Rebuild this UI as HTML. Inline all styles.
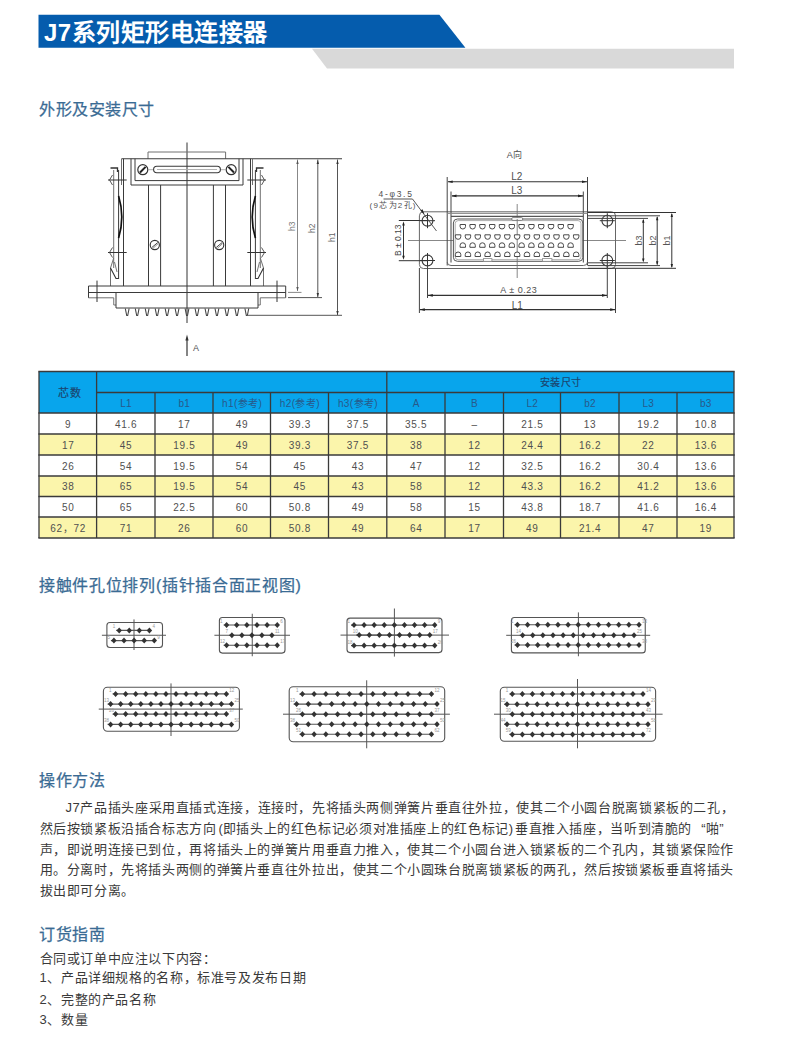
<!DOCTYPE html>
<html lang="zh-CN"><head><meta charset="utf-8">
<style>
html,body{margin:0;padding:0;background:#fff;}
body{position:relative;width:800px;height:1047px;overflow:hidden;font-family:"Liberation Sans",sans-serif;color:#333;}
svg{position:absolute;left:0;top:0;}
.h{position:absolute;left:39px;font-size:16px;letter-spacing:0.5px;color:#3a6b94;-webkit-text-stroke:0.25px #3a6b94;white-space:nowrap;line-height:1;}
.title{position:absolute;left:44px;top:20.5px;font-size:24px;font-weight:bold;color:#fff;white-space:nowrap;line-height:1;letter-spacing:0.5px;}
.c{position:absolute;text-align:center;white-space:nowrap;line-height:1;font-size:10px;color:#505050;letter-spacing:0.7px;text-indent:0.7px;}
.ch{color:#27598a;letter-spacing:0.4px;}
.cb{color:#1b4670;-webkit-text-stroke:0.2px #1b4670;}
.p{position:absolute;left:39px;font-size:13px;letter-spacing:0.62px;color:#3a3a3a;white-space:nowrap;line-height:1;}
.pa{display:inline-block;width:6.2px;text-align:right;letter-spacing:0;}
.pr{text-align:left;}
.q1{display:inline-block;width:13.6px;text-align:right;letter-spacing:0;}
.q2{display:inline-block;width:13.6px;text-align:left;letter-spacing:0;}
.d{position:absolute;white-space:nowrap;line-height:1;font-size:8px;color:#505050;}
</style></head><body>
<svg width="800" height="80" viewBox="0 0 800 80">
<polygon points="38.5,14.75 439.4,14.75 465.4,47.75 38.5,47.75" fill="#055cad"/>
<polygon points="312,48.75 734,48.75 734,68.5 327,68.5" fill="#d9d9d9"/>
</svg>
<div class="title">J7系列矩形电连接器</div>
<div class="h" style="top:101.5px">外形及安装尺寸</div>
<div class="h" style="top:577.5px;letter-spacing:0.7px">接触件孔位排列(插针插合面正视图)</div>
<div class="h" style="top:772.5px">操作方法</div>
<div class="h" style="top:926.5px">订货指南</div>
<svg width="800" height="1047" viewBox="0 0 800 1047">
<rect x="39" y="371.5" width="695" height="41.5" fill="#08a5ec"/>
<rect x="39" y="434" width="695" height="21" fill="#fbf5ab"/>
<rect x="39" y="476" width="695" height="20.5" fill="#fbf5ab"/>
<rect x="39" y="517" width="695" height="21" fill="#fbf5ab"/>
<g stroke="#3a3a3a" stroke-width="1.3" fill="none">
<line x1="38.35" y1="371.5" x2="734.65" y2="371.5"/>
<line x1="96.6" y1="392.5" x2="734" y2="392.5"/>
<line x1="38.35" y1="413" x2="734.65" y2="413"/>
<line x1="38.35" y1="434" x2="734.65" y2="434"/>
<line x1="38.35" y1="455" x2="734.65" y2="455"/>
<line x1="38.35" y1="476" x2="734.65" y2="476"/>
<line x1="38.35" y1="496.5" x2="734.65" y2="496.5"/>
<line x1="38.35" y1="517" x2="734.65" y2="517"/>
<line x1="38.35" y1="538" x2="734.65" y2="538"/>
<line x1="39" y1="371.5" x2="39" y2="538"/>
<line x1="96.6" y1="371.5" x2="96.6" y2="538"/>
<line x1="155" y1="392.5" x2="155" y2="538"/>
<line x1="213" y1="392.5" x2="213" y2="538"/>
<line x1="270.5" y1="392.5" x2="270.5" y2="538"/>
<line x1="328.5" y1="392.5" x2="328.5" y2="538"/>
<line x1="386.8" y1="371.5" x2="386.8" y2="538"/>
<line x1="445" y1="392.5" x2="445" y2="538"/>
<line x1="503.5" y1="392.5" x2="503.5" y2="538"/>
<line x1="560.5" y1="392.5" x2="560.5" y2="538"/>
<line x1="619" y1="392.5" x2="619" y2="538"/>
<line x1="677" y1="392.5" x2="677" y2="538"/>
<line x1="734" y1="371.5" x2="734" y2="538"/>
</g>
</svg>
<div class="c ch cb" style="left:40.5px;width:57.599999999999994px;top:387.75px"><span style="font-size:11px">芯数</span></div><div class="c ch cb" style="left:386.8px;width:347.2px;top:378.00px">安装尺寸</div><div class="c ch" style="left:96.6px;width:58.400000000000006px;top:398.75px">L1</div><div class="c ch" style="left:155px;width:58px;top:398.75px">b1</div><div class="c ch" style="left:213px;width:57.5px;top:398.75px">h1(参考)</div><div class="c ch" style="left:270.5px;width:58.0px;top:398.75px">h2(参考)</div><div class="c ch" style="left:328.5px;width:58.30000000000001px;top:398.75px">h3(参考)</div><div class="c ch" style="left:386.8px;width:58.19999999999999px;top:398.75px">A</div><div class="c ch" style="left:445px;width:58.5px;top:398.75px">B</div><div class="c ch" style="left:503.5px;width:57.0px;top:398.75px">L2</div><div class="c ch" style="left:560.5px;width:58.5px;top:398.75px">b2</div><div class="c ch" style="left:619px;width:58px;top:398.75px">L3</div><div class="c ch" style="left:677px;width:57px;top:398.75px">b3</div><div class="c" style="left:39px;width:57.599999999999994px;top:419.50px">9</div><div class="c" style="left:96.6px;width:58.400000000000006px;top:419.50px">41.6</div><div class="c" style="left:155px;width:58px;top:419.50px">17</div><div class="c" style="left:213px;width:57.5px;top:419.50px">49</div><div class="c" style="left:270.5px;width:58.0px;top:419.50px">39.3</div><div class="c" style="left:328.5px;width:58.30000000000001px;top:419.50px">37.5</div><div class="c" style="left:386.8px;width:58.19999999999999px;top:419.50px">35.5</div><div class="c" style="left:445px;width:58.5px;top:419.50px">–</div><div class="c" style="left:503.5px;width:57.0px;top:419.50px">21.5</div><div class="c" style="left:560.5px;width:58.5px;top:419.50px">13</div><div class="c" style="left:619px;width:58px;top:419.50px">19.2</div><div class="c" style="left:677px;width:57px;top:419.50px">10.8</div><div class="c" style="left:39px;width:57.599999999999994px;top:440.50px">17</div><div class="c" style="left:96.6px;width:58.400000000000006px;top:440.50px">45</div><div class="c" style="left:155px;width:58px;top:440.50px">19.5</div><div class="c" style="left:213px;width:57.5px;top:440.50px">49</div><div class="c" style="left:270.5px;width:58.0px;top:440.50px">39.3</div><div class="c" style="left:328.5px;width:58.30000000000001px;top:440.50px">37.5</div><div class="c" style="left:386.8px;width:58.19999999999999px;top:440.50px">38</div><div class="c" style="left:445px;width:58.5px;top:440.50px">12</div><div class="c" style="left:503.5px;width:57.0px;top:440.50px">24.4</div><div class="c" style="left:560.5px;width:58.5px;top:440.50px">16.2</div><div class="c" style="left:619px;width:58px;top:440.50px">22</div><div class="c" style="left:677px;width:57px;top:440.50px">13.6</div><div class="c" style="left:39px;width:57.599999999999994px;top:461.50px">26</div><div class="c" style="left:96.6px;width:58.400000000000006px;top:461.50px">54</div><div class="c" style="left:155px;width:58px;top:461.50px">19.5</div><div class="c" style="left:213px;width:57.5px;top:461.50px">54</div><div class="c" style="left:270.5px;width:58.0px;top:461.50px">45</div><div class="c" style="left:328.5px;width:58.30000000000001px;top:461.50px">43</div><div class="c" style="left:386.8px;width:58.19999999999999px;top:461.50px">47</div><div class="c" style="left:445px;width:58.5px;top:461.50px">12</div><div class="c" style="left:503.5px;width:57.0px;top:461.50px">32.5</div><div class="c" style="left:560.5px;width:58.5px;top:461.50px">16.2</div><div class="c" style="left:619px;width:58px;top:461.50px">30.4</div><div class="c" style="left:677px;width:57px;top:461.50px">13.6</div><div class="c" style="left:39px;width:57.599999999999994px;top:482.25px">38</div><div class="c" style="left:96.6px;width:58.400000000000006px;top:482.25px">65</div><div class="c" style="left:155px;width:58px;top:482.25px">19.5</div><div class="c" style="left:213px;width:57.5px;top:482.25px">54</div><div class="c" style="left:270.5px;width:58.0px;top:482.25px">45</div><div class="c" style="left:328.5px;width:58.30000000000001px;top:482.25px">43</div><div class="c" style="left:386.8px;width:58.19999999999999px;top:482.25px">58</div><div class="c" style="left:445px;width:58.5px;top:482.25px">12</div><div class="c" style="left:503.5px;width:57.0px;top:482.25px">43.3</div><div class="c" style="left:560.5px;width:58.5px;top:482.25px">16.2</div><div class="c" style="left:619px;width:58px;top:482.25px">41.2</div><div class="c" style="left:677px;width:57px;top:482.25px">13.6</div><div class="c" style="left:39px;width:57.599999999999994px;top:502.75px">50</div><div class="c" style="left:96.6px;width:58.400000000000006px;top:502.75px">65</div><div class="c" style="left:155px;width:58px;top:502.75px">22.5</div><div class="c" style="left:213px;width:57.5px;top:502.75px">60</div><div class="c" style="left:270.5px;width:58.0px;top:502.75px">50.8</div><div class="c" style="left:328.5px;width:58.30000000000001px;top:502.75px">49</div><div class="c" style="left:386.8px;width:58.19999999999999px;top:502.75px">58</div><div class="c" style="left:445px;width:58.5px;top:502.75px">15</div><div class="c" style="left:503.5px;width:57.0px;top:502.75px">43.8</div><div class="c" style="left:560.5px;width:58.5px;top:502.75px">18.7</div><div class="c" style="left:619px;width:58px;top:502.75px">41.6</div><div class="c" style="left:677px;width:57px;top:502.75px">16.4</div><div class="c" style="left:39px;width:57.599999999999994px;top:523.50px">62，72</div><div class="c" style="left:96.6px;width:58.400000000000006px;top:523.50px">71</div><div class="c" style="left:155px;width:58px;top:523.50px">26</div><div class="c" style="left:213px;width:57.5px;top:523.50px">60</div><div class="c" style="left:270.5px;width:58.0px;top:523.50px">50.8</div><div class="c" style="left:328.5px;width:58.30000000000001px;top:523.50px">49</div><div class="c" style="left:386.8px;width:58.19999999999999px;top:523.50px">64</div><div class="c" style="left:445px;width:58.5px;top:523.50px">17</div><div class="c" style="left:503.5px;width:57.0px;top:523.50px">49</div><div class="c" style="left:560.5px;width:58.5px;top:523.50px">21.4</div><div class="c" style="left:619px;width:58px;top:523.50px">47</div><div class="c" style="left:677px;width:57px;top:523.50px">19</div><svg width="800" height="1047" viewBox="0 0 800 1047"><line x1="187" y1="142.5" x2="187" y2="323" stroke="#333" stroke-width="1"/>
<line x1="187" y1="338" x2="187" y2="356" stroke="#333" stroke-width="1.2"/>
<polygon points="187,334.5 185.4,340.5 188.6,340.5" fill="#333"/>
<path d="M148,158.75 V152 H225.6 V158.75" fill="none" stroke="#707070" stroke-width="1"/>
<line x1="121.5" y1="158.75" x2="342" y2="158.75" stroke="#3a3a3a" stroke-width="1"/>
<line x1="121.5" y1="158.75" x2="121.5" y2="185" stroke="#707070" stroke-width="1"/>
<line x1="123.5" y1="158.75" x2="123.5" y2="286" stroke="#3a3a3a" stroke-width="1"/>
<path d="M131,158.75 V185 H187" fill="none" stroke="#3a3a3a" stroke-width="1"/>
<path d="M135,158.75 V180.6 H187" fill="none" stroke="#3a3a3a" stroke-width="1"/>
<line x1="148.5" y1="185" x2="148.5" y2="286" stroke="#3a3a3a" stroke-width="1"/>
<line x1="160.6" y1="185" x2="160.6" y2="286" stroke="#3a3a3a" stroke-width="1"/>
<circle cx="142.8" cy="169.7" r="5" fill="#fff" stroke="#333" stroke-width="1.2"/>
<line x1="140.0" y1="172.5" x2="145.60000000000002" y2="166.9" stroke="#222" stroke-width="2"/>
<line x1="148" y1="169.7" x2="153.5" y2="169.7" stroke="#999" stroke-width="0.8"/>
<circle cx="154.8" cy="245" r="4.6" fill="#fff" stroke="#333" stroke-width="1.1"/>
<line x1="151.8" y1="247.5" x2="157.8" y2="242.5" stroke="#444" stroke-width="1"/>
<line x1="152.8" y1="248.5" x2="158.3" y2="243.5" stroke="#777" stroke-width="0.8"/>
<line x1="113.7" y1="170" x2="113.7" y2="268" stroke="#707070" stroke-width="1"/>
<line x1="118.6" y1="170" x2="118.6" y2="279" stroke="#3a3a3a" stroke-width="1"/>
<path d="M110.5,168 H117.5 V172" fill="none" stroke="#333" stroke-width="1.3"/>
<line x1="108" y1="180" x2="126.7" y2="180" stroke="#333" stroke-width="1"/>
<line x1="108" y1="252.5" x2="126.7" y2="252.5" stroke="#333" stroke-width="1"/>
<path d="M112.5,175 L109.5,180 L112.5,185" fill="none" stroke="#444" stroke-width="0.9"/>
<path d="M112.5,247.5 L109.5,252.5 L112.5,257.5" fill="none" stroke="#444" stroke-width="0.9"/>
<path d="M118.6,196 Q125,217 118.6,238" fill="none" stroke="#111" stroke-width="1.7"/>
<path d="M113.7,258 L110.5,268 L110.5,286" fill="none" stroke="#707070" stroke-width="1"/>
<path d="M110.5,268 L116,278.5 H118.6" fill="none" stroke="#333" stroke-width="1.1"/>
<path d="M114.5,262 L117,272" fill="none" stroke="#666" stroke-width="0.9"/>
<path d="M88.5,297.8 H113.75 V305 H116" fill="none" stroke="#707070" stroke-width="1"/>
<line x1="116" y1="292.5" x2="116" y2="308" stroke="#3a3a3a" stroke-width="1"/>
<line x1="97" y1="280.6" x2="97" y2="302" stroke="#333" stroke-width="1"/>
<line x1="252.5" y1="158.75" x2="252.5" y2="185" stroke="#707070" stroke-width="1"/>
<line x1="250.5" y1="158.75" x2="250.5" y2="286" stroke="#3a3a3a" stroke-width="1"/>
<path d="M243,158.75 V185 H187" fill="none" stroke="#3a3a3a" stroke-width="1"/>
<path d="M239,158.75 V180.6 H187" fill="none" stroke="#3a3a3a" stroke-width="1"/>
<line x1="225.5" y1="185" x2="225.5" y2="286" stroke="#3a3a3a" stroke-width="1"/>
<line x1="213.4" y1="185" x2="213.4" y2="286" stroke="#3a3a3a" stroke-width="1"/>
<circle cx="231.2" cy="169.7" r="5" fill="#fff" stroke="#333" stroke-width="1.2"/>
<line x1="234.0" y1="172.5" x2="228.39999999999998" y2="166.9" stroke="#222" stroke-width="2"/>
<line x1="226" y1="169.7" x2="220.5" y2="169.7" stroke="#999" stroke-width="0.8"/>
<circle cx="219.2" cy="245" r="4.6" fill="#fff" stroke="#333" stroke-width="1.1"/>
<line x1="216.2" y1="247.5" x2="222.2" y2="242.5" stroke="#444" stroke-width="1"/>
<line x1="217.2" y1="248.5" x2="222.7" y2="243.5" stroke="#777" stroke-width="0.8"/>
<line x1="260.3" y1="170" x2="260.3" y2="268" stroke="#707070" stroke-width="1"/>
<line x1="255.4" y1="170" x2="255.4" y2="279" stroke="#3a3a3a" stroke-width="1"/>
<path d="M263.5,168 H256.5 V172" fill="none" stroke="#333" stroke-width="1.3"/>
<line x1="266" y1="180" x2="247.3" y2="180" stroke="#333" stroke-width="1"/>
<line x1="266" y1="252.5" x2="247.3" y2="252.5" stroke="#333" stroke-width="1"/>
<path d="M261.5,175 L264.5,180 L261.5,185" fill="none" stroke="#444" stroke-width="0.9"/>
<path d="M261.5,247.5 L264.5,252.5 L261.5,257.5" fill="none" stroke="#444" stroke-width="0.9"/>
<path d="M255.4,196 Q249,217 255.4,238" fill="none" stroke="#111" stroke-width="1.7"/>
<path d="M260.3,258 L263.5,268 L263.5,286" fill="none" stroke="#707070" stroke-width="1"/>
<path d="M263.5,268 L258,278.5 H255.4" fill="none" stroke="#333" stroke-width="1.1"/>
<path d="M259.5,262 L257,272" fill="none" stroke="#666" stroke-width="0.9"/>
<path d="M285.5,297.8 H260.25 V305 H258" fill="none" stroke="#707070" stroke-width="1"/>
<line x1="258" y1="292.5" x2="258" y2="308" stroke="#3a3a3a" stroke-width="1"/>
<line x1="277" y1="280.6" x2="277" y2="302" stroke="#333" stroke-width="1"/>
<rect x="153.6" y="166.3" width="66.8" height="6.4" rx="3.2" fill="none" stroke="#3a3a3a" stroke-width="1.1"/>
<line x1="157" y1="169.5" x2="217" y2="169.5" stroke="#aaa" stroke-width="0.9"/>
<path d="M88.5,286 H285.7 M88.5,292.5 H285.7 M88.5,286 V297.8 M285.7,286 V297.8" fill="none" stroke="#3a3a3a" stroke-width="1"/>
<line x1="116" y1="308" x2="258" y2="308" stroke="#3a3a3a" stroke-width="1"/>
<path d="M125.30,308.5 L126.80,316 M129.10,308.5 L127.60,316" fill="none" stroke="#444" stroke-width="1.1"/>
<path d="M135.27,308.5 L136.77,316 M139.07,308.5 L137.57,316" fill="none" stroke="#444" stroke-width="1.1"/>
<path d="M145.24,308.5 L146.74,316 M149.04,308.5 L147.54,316" fill="none" stroke="#444" stroke-width="1.1"/>
<path d="M155.21,308.5 L156.71,316 M159.01,308.5 L157.51,316" fill="none" stroke="#444" stroke-width="1.1"/>
<path d="M165.18,308.5 L166.68,316 M168.98,308.5 L167.48,316" fill="none" stroke="#444" stroke-width="1.1"/>
<path d="M175.15,308.5 L176.65,316 M178.95,308.5 L177.45,316" fill="none" stroke="#444" stroke-width="1.1"/>
<path d="M185.12,308.5 L186.62,316 M188.92,308.5 L187.42,316" fill="none" stroke="#444" stroke-width="1.1"/>
<path d="M195.09,308.5 L196.59,316 M198.89,308.5 L197.39,316" fill="none" stroke="#444" stroke-width="1.1"/>
<path d="M205.06,308.5 L206.56,316 M208.86,308.5 L207.36,316" fill="none" stroke="#444" stroke-width="1.1"/>
<path d="M215.03,308.5 L216.53,316 M218.83,308.5 L217.33,316" fill="none" stroke="#444" stroke-width="1.1"/>
<path d="M225.00,308.5 L226.50,316 M228.80,308.5 L227.30,316" fill="none" stroke="#444" stroke-width="1.1"/>
<path d="M234.97,308.5 L236.47,316 M238.77,308.5 L237.27,316" fill="none" stroke="#444" stroke-width="1.1"/>
<path d="M244.94,308.5 L246.44,316 M248.74,308.5 L247.24,316" fill="none" stroke="#444" stroke-width="1.1"/>
<line x1="297.5" y1="159.5" x2="297.5" y2="291" stroke="#888" stroke-width="1"/>
<polygon points="297.5,160 296.3,164 298.7,164" fill="#555"/>
<polygon points="297.5,291 296.3,287 298.7,287" fill="#555"/>
<line x1="288" y1="292.4" x2="301.5" y2="292.4" stroke="#888" stroke-width="1"/>
<line x1="317.8" y1="159.5" x2="317.8" y2="297" stroke="#555" stroke-width="1"/>
<polygon points="317.8,160 316.6,164 319.0,164" fill="#333"/>
<polygon points="317.8,297 316.6,293 319.0,293" fill="#333"/>
<line x1="288" y1="297.6" x2="322" y2="297.6" stroke="#555" stroke-width="1"/>
<line x1="337.5" y1="159.5" x2="337.5" y2="315" stroke="#555" stroke-width="1"/>
<polygon points="337.5,160 336.3,164 338.7,164" fill="#333"/>
<polygon points="337.5,315 336.3,311 338.7,311" fill="#333"/>
<line x1="248" y1="315.3" x2="342" y2="315.3" stroke="#555" stroke-width="1"/><line x1="408" y1="240.5" x2="626" y2="240.5" stroke="#888" stroke-width="1"/>
<line x1="517.2" y1="204" x2="517.2" y2="278" stroke="#888" stroke-width="1"/>
<rect x="419.4" y="211.8" width="196.1" height="56.7" rx="4" fill="none" stroke="#666" stroke-width="1"/>
<line x1="447.2" y1="177" x2="447.2" y2="265.5" stroke="#444" stroke-width="1"/>
<line x1="587.5" y1="177" x2="587.5" y2="265.5" stroke="#444" stroke-width="1"/>
<line x1="451" y1="191.5" x2="451" y2="262.5" stroke="#444" stroke-width="1"/>
<line x1="583.3" y1="191.5" x2="583.3" y2="262.5" stroke="#444" stroke-width="1"/>
<line x1="447.2" y1="213.4" x2="587.5" y2="213.4" stroke="#888" stroke-width="1"/>
<line x1="451" y1="216.3" x2="583.3" y2="216.3" stroke="#555" stroke-width="1.2"/>
<path d="M447.2,262 Q447.2,265.5 451,265.5 H583.5 Q587.5,265.5 587.5,262" fill="none" stroke="#666" stroke-width="1"/>
<rect x="453.4" y="219" width="129.4" height="42.3" rx="4" fill="#fff" stroke="#555" stroke-width="1"/>
<rect x="455.2" y="220.6" width="125.8" height="39.1" rx="3" fill="none" stroke="#999" stroke-width="0.8"/>
<rect x="511.6" y="217.6" width="11.2" height="2.8" rx="1.4" fill="#fff" stroke="#666" stroke-width="0.8"/>
<rect x="483.4" y="258.6" width="8.5" height="2.7" fill="#fff" stroke="#888" stroke-width="0.8"/>
<rect x="542.5" y="258.6" width="9.4" height="2.7" fill="#fff" stroke="#888" stroke-width="0.8"/>
<line x1="517.2" y1="219" x2="517.2" y2="262" stroke="#777" stroke-width="0.9"/>
<path d="M460.10,224.50 H465.50 V226.50 A2.7,2.5 0 0 1 460.10,226.50 Z" fill="#fff" stroke="#4a4a4a" stroke-width="1"/>
<path d="M460.10,247.30 H465.50 V245.30 A2.7,2.5 0 0 0 460.10,245.30 Z" fill="#fff" stroke="#4a4a4a" stroke-width="1"/>
<path d="M469.90,224.50 H475.30 V226.50 A2.7,2.5 0 0 1 469.90,226.50 Z" fill="#fff" stroke="#4a4a4a" stroke-width="1"/>
<path d="M469.90,247.30 H475.30 V245.30 A2.7,2.5 0 0 0 469.90,245.30 Z" fill="#fff" stroke="#4a4a4a" stroke-width="1"/>
<path d="M479.70,224.50 H485.10 V226.50 A2.7,2.5 0 0 1 479.70,226.50 Z" fill="#fff" stroke="#4a4a4a" stroke-width="1"/>
<path d="M479.70,247.30 H485.10 V245.30 A2.7,2.5 0 0 0 479.70,245.30 Z" fill="#fff" stroke="#4a4a4a" stroke-width="1"/>
<path d="M489.50,224.50 H494.90 V226.50 A2.7,2.5 0 0 1 489.50,226.50 Z" fill="#fff" stroke="#4a4a4a" stroke-width="1"/>
<path d="M489.50,247.30 H494.90 V245.30 A2.7,2.5 0 0 0 489.50,245.30 Z" fill="#fff" stroke="#4a4a4a" stroke-width="1"/>
<path d="M499.30,224.50 H504.70 V226.50 A2.7,2.5 0 0 1 499.30,226.50 Z" fill="#fff" stroke="#4a4a4a" stroke-width="1"/>
<path d="M499.30,247.30 H504.70 V245.30 A2.7,2.5 0 0 0 499.30,245.30 Z" fill="#fff" stroke="#4a4a4a" stroke-width="1"/>
<path d="M509.10,224.50 H514.50 V226.50 A2.7,2.5 0 0 1 509.10,226.50 Z" fill="#fff" stroke="#4a4a4a" stroke-width="1"/>
<path d="M509.10,247.30 H514.50 V245.30 A2.7,2.5 0 0 0 509.10,245.30 Z" fill="#fff" stroke="#4a4a4a" stroke-width="1"/>
<path d="M518.90,224.50 H524.30 V226.50 A2.7,2.5 0 0 1 518.90,226.50 Z" fill="#fff" stroke="#4a4a4a" stroke-width="1"/>
<path d="M518.90,247.30 H524.30 V245.30 A2.7,2.5 0 0 0 518.90,245.30 Z" fill="#fff" stroke="#4a4a4a" stroke-width="1"/>
<path d="M528.70,224.50 H534.10 V226.50 A2.7,2.5 0 0 1 528.70,226.50 Z" fill="#fff" stroke="#4a4a4a" stroke-width="1"/>
<path d="M528.70,247.30 H534.10 V245.30 A2.7,2.5 0 0 0 528.70,245.30 Z" fill="#fff" stroke="#4a4a4a" stroke-width="1"/>
<path d="M538.50,224.50 H543.90 V226.50 A2.7,2.5 0 0 1 538.50,226.50 Z" fill="#fff" stroke="#4a4a4a" stroke-width="1"/>
<path d="M538.50,247.30 H543.90 V245.30 A2.7,2.5 0 0 0 538.50,245.30 Z" fill="#fff" stroke="#4a4a4a" stroke-width="1"/>
<path d="M548.30,224.50 H553.70 V226.50 A2.7,2.5 0 0 1 548.30,226.50 Z" fill="#fff" stroke="#4a4a4a" stroke-width="1"/>
<path d="M548.30,247.30 H553.70 V245.30 A2.7,2.5 0 0 0 548.30,245.30 Z" fill="#fff" stroke="#4a4a4a" stroke-width="1"/>
<path d="M558.10,224.50 H563.50 V226.50 A2.7,2.5 0 0 1 558.10,226.50 Z" fill="#fff" stroke="#4a4a4a" stroke-width="1"/>
<path d="M558.10,247.30 H563.50 V245.30 A2.7,2.5 0 0 0 558.10,245.30 Z" fill="#fff" stroke="#4a4a4a" stroke-width="1"/>
<path d="M567.90,224.50 H573.30 V226.50 A2.7,2.5 0 0 1 567.90,226.50 Z" fill="#fff" stroke="#4a4a4a" stroke-width="1"/>
<path d="M567.90,247.30 H573.30 V245.30 A2.7,2.5 0 0 0 567.90,245.30 Z" fill="#fff" stroke="#4a4a4a" stroke-width="1"/>
<path d="M455.40,234.80 H460.80 V236.80 A2.7,2.5 0 0 1 455.40,236.80 Z" fill="#fff" stroke="#4a4a4a" stroke-width="1"/>
<path d="M455.40,256.50 H460.80 V254.50 A2.7,2.5 0 0 0 455.40,254.50 Z" fill="#fff" stroke="#4a4a4a" stroke-width="1"/>
<path d="M465.24,234.80 H470.64 V236.80 A2.7,2.5 0 0 1 465.24,236.80 Z" fill="#fff" stroke="#4a4a4a" stroke-width="1"/>
<path d="M465.24,256.50 H470.64 V254.50 A2.7,2.5 0 0 0 465.24,254.50 Z" fill="#fff" stroke="#4a4a4a" stroke-width="1"/>
<path d="M475.08,234.80 H480.48 V236.80 A2.7,2.5 0 0 1 475.08,236.80 Z" fill="#fff" stroke="#4a4a4a" stroke-width="1"/>
<path d="M475.08,256.50 H480.48 V254.50 A2.7,2.5 0 0 0 475.08,254.50 Z" fill="#fff" stroke="#4a4a4a" stroke-width="1"/>
<path d="M484.92,234.80 H490.32 V236.80 A2.7,2.5 0 0 1 484.92,236.80 Z" fill="#fff" stroke="#4a4a4a" stroke-width="1"/>
<path d="M484.92,256.50 H490.32 V254.50 A2.7,2.5 0 0 0 484.92,254.50 Z" fill="#fff" stroke="#4a4a4a" stroke-width="1"/>
<path d="M494.76,234.80 H500.16 V236.80 A2.7,2.5 0 0 1 494.76,236.80 Z" fill="#fff" stroke="#4a4a4a" stroke-width="1"/>
<path d="M494.76,256.50 H500.16 V254.50 A2.7,2.5 0 0 0 494.76,254.50 Z" fill="#fff" stroke="#4a4a4a" stroke-width="1"/>
<path d="M504.60,234.80 H510.00 V236.80 A2.7,2.5 0 0 1 504.60,236.80 Z" fill="#fff" stroke="#4a4a4a" stroke-width="1"/>
<path d="M504.60,256.50 H510.00 V254.50 A2.7,2.5 0 0 0 504.60,254.50 Z" fill="#fff" stroke="#4a4a4a" stroke-width="1"/>
<path d="M514.44,234.80 H519.84 V236.80 A2.7,2.5 0 0 1 514.44,236.80 Z" fill="#fff" stroke="#4a4a4a" stroke-width="1"/>
<path d="M514.44,256.50 H519.84 V254.50 A2.7,2.5 0 0 0 514.44,254.50 Z" fill="#fff" stroke="#4a4a4a" stroke-width="1"/>
<path d="M524.28,234.80 H529.68 V236.80 A2.7,2.5 0 0 1 524.28,236.80 Z" fill="#fff" stroke="#4a4a4a" stroke-width="1"/>
<path d="M524.28,256.50 H529.68 V254.50 A2.7,2.5 0 0 0 524.28,254.50 Z" fill="#fff" stroke="#4a4a4a" stroke-width="1"/>
<path d="M534.12,234.80 H539.52 V236.80 A2.7,2.5 0 0 1 534.12,236.80 Z" fill="#fff" stroke="#4a4a4a" stroke-width="1"/>
<path d="M534.12,256.50 H539.52 V254.50 A2.7,2.5 0 0 0 534.12,254.50 Z" fill="#fff" stroke="#4a4a4a" stroke-width="1"/>
<path d="M543.96,234.80 H549.36 V236.80 A2.7,2.5 0 0 1 543.96,236.80 Z" fill="#fff" stroke="#4a4a4a" stroke-width="1"/>
<path d="M543.96,256.50 H549.36 V254.50 A2.7,2.5 0 0 0 543.96,254.50 Z" fill="#fff" stroke="#4a4a4a" stroke-width="1"/>
<path d="M553.80,234.80 H559.20 V236.80 A2.7,2.5 0 0 1 553.80,236.80 Z" fill="#fff" stroke="#4a4a4a" stroke-width="1"/>
<path d="M553.80,256.50 H559.20 V254.50 A2.7,2.5 0 0 0 553.80,254.50 Z" fill="#fff" stroke="#4a4a4a" stroke-width="1"/>
<path d="M563.64,234.80 H569.04 V236.80 A2.7,2.5 0 0 1 563.64,236.80 Z" fill="#fff" stroke="#4a4a4a" stroke-width="1"/>
<path d="M563.64,256.50 H569.04 V254.50 A2.7,2.5 0 0 0 563.64,254.50 Z" fill="#fff" stroke="#4a4a4a" stroke-width="1"/>
<path d="M573.48,234.80 H578.88 V236.80 A2.7,2.5 0 0 1 573.48,236.80 Z" fill="#fff" stroke="#4a4a4a" stroke-width="1"/>
<path d="M573.48,256.50 H578.88 V254.50 A2.7,2.5 0 0 0 573.48,254.50 Z" fill="#fff" stroke="#4a4a4a" stroke-width="1"/>
<circle cx="427.5" cy="220.7" r="5.4" fill="#fff" stroke="#3a3a3a" stroke-width="1.1"/>
<line x1="420.0" y1="220.7" x2="435.0" y2="220.7" stroke="#333" stroke-width="1"/>
<line x1="427.5" y1="213.2" x2="427.5" y2="228.2" stroke="#333" stroke-width="1"/>
<circle cx="427.5" cy="260.5" r="5.4" fill="#fff" stroke="#3a3a3a" stroke-width="1.1"/>
<line x1="420.0" y1="260.5" x2="435.0" y2="260.5" stroke="#333" stroke-width="1"/>
<line x1="427.5" y1="253.0" x2="427.5" y2="268.0" stroke="#333" stroke-width="1"/>
<circle cx="607.3" cy="220.7" r="5.4" fill="#fff" stroke="#3a3a3a" stroke-width="1.1"/>
<line x1="599.8" y1="220.7" x2="614.8" y2="220.7" stroke="#333" stroke-width="1"/>
<line x1="607.3" y1="213.2" x2="607.3" y2="228.2" stroke="#333" stroke-width="1"/>
<circle cx="607.3" cy="260.5" r="5.4" fill="#fff" stroke="#3a3a3a" stroke-width="1.1"/>
<line x1="599.8" y1="260.5" x2="614.8" y2="260.5" stroke="#333" stroke-width="1"/>
<line x1="607.3" y1="253.0" x2="607.3" y2="268.0" stroke="#333" stroke-width="1"/>
<line x1="398.8" y1="220.5" x2="427" y2="220.5" stroke="#333" stroke-width="1"/>
<line x1="398.8" y1="260.7" x2="427" y2="260.7" stroke="#333" stroke-width="1"/>
<line x1="403.5" y1="224" x2="403.5" y2="257" stroke="#333" stroke-width="1"/>
<polygon points="403.5,221.5 402.2,225.5 404.8,225.5" fill="#222"/>
<polygon points="403.5,259.7 402.2,255.7 404.8,255.7" fill="#222"/>
<path d="M383.5,199 H412.5 L436.5,231" fill="none" stroke="#444" stroke-width="0.9"/>
<polygon points="423.5,213 423.5,213 423.5,213" fill="#222"/>
<polygon points="424.5,214.5 420.4,210.6 422.5,209.2" fill="#222"/>
<line x1="448" y1="181.7" x2="587" y2="181.7" stroke="#333" stroke-width="1.1"/>
<polygon points="447.7,181.7 452.7,180.39999999999998 452.7,183.0" fill="#222"/>
<polygon points="587,181.7 582,180.39999999999998 582,183.0" fill="#222"/>
<line x1="452" y1="195.9" x2="583" y2="195.9" stroke="#333" stroke-width="1.1"/>
<polygon points="451.5,195.9 456.5,194.6 456.5,197.20000000000002" fill="#222"/>
<polygon points="583,195.9 578,194.6 578,197.20000000000002" fill="#222"/>
<line x1="588" y1="212.5" x2="676" y2="212.5" stroke="#333" stroke-width="1"/>
<line x1="588" y1="268.3" x2="676" y2="268.3" stroke="#333" stroke-width="1"/>
<line x1="588" y1="215.8" x2="660" y2="215.8" stroke="#444" stroke-width="1"/>
<line x1="588" y1="265.6" x2="660" y2="265.6" stroke="#444" stroke-width="1"/>
<line x1="588" y1="218.4" x2="648" y2="218.4" stroke="#444" stroke-width="1"/>
<line x1="588" y1="262.8" x2="648" y2="262.8" stroke="#444" stroke-width="1"/>
<line x1="643.3" y1="220" x2="643.3" y2="261" stroke="#333" stroke-width="1"/>
<polygon points="643.3,218.8 642.0999999999999,222.8 644.5,222.8" fill="#222"/>
<polygon points="643.3,262.4 642.0999999999999,258.4 644.5,258.4" fill="#222"/>
<line x1="657.2" y1="217" x2="657.2" y2="264.5" stroke="#333" stroke-width="1"/>
<polygon points="657.2,216.2 656.0,220.2 658.4000000000001,220.2" fill="#222"/>
<polygon points="657.2,265.2 656.0,261.2 658.4000000000001,261.2" fill="#222"/>
<line x1="671.8" y1="214" x2="671.8" y2="267" stroke="#333" stroke-width="1"/>
<polygon points="671.8,212.9 670.5999999999999,216.9 673.0,216.9" fill="#222"/>
<polygon points="671.8,267.9 670.5999999999999,263.9 673.0,263.9" fill="#222"/>
<line x1="427.5" y1="265.5" x2="427.5" y2="298" stroke="#444" stroke-width="1"/>
<line x1="607.3" y1="265.5" x2="607.3" y2="298" stroke="#444" stroke-width="1"/>
<line x1="419.4" y1="268" x2="419.4" y2="313" stroke="#444" stroke-width="1"/>
<line x1="615.5" y1="268" x2="615.5" y2="313" stroke="#444" stroke-width="1"/>
<line x1="428" y1="295.4" x2="607" y2="295.4" stroke="#333" stroke-width="1.1"/>
<polygon points="427.8,295.4 432.8,294.09999999999997 432.8,296.7" fill="#222"/>
<polygon points="607,295.4 602,294.09999999999997 602,296.7" fill="#222"/>
<line x1="420" y1="309.6" x2="615" y2="309.6" stroke="#333" stroke-width="1.1"/>
<polygon points="419.8,309.6 424.8,308.3 424.8,310.90000000000003" fill="#222"/>
<polygon points="615.2,309.6 610.2,308.3 610.2,310.90000000000003" fill="#222"/><rect x="106.9" y="622.5" width="55.60" height="25.00" rx="3" fill="none" stroke="#555" stroke-width="1.1"/>
<line x1="134" y1="619.4" x2="134" y2="650" stroke="#555" stroke-width="1"/>
<line x1="101.9" y1="635.25" x2="166" y2="635.25" stroke="#555" stroke-width="1"/>
<text x="112.70" y="628.40" font-size="4.5" fill="#999" font-family="Liberation Sans">1</text>
<text x="152.41" y="628.40" font-size="4.5" fill="#999" font-family="Liberation Sans">4</text>
<line x1="116.2" y1="630.4" x2="150.41" y2="630.4" stroke="#555" stroke-width="1.1"/>
<path d="M116.50,630.4 L119.20,627.40 L121.90,630.4 L119.20,633.40 Z" fill="#333"/>
<path d="M126.57,630.4 L129.27,627.40 L131.97,630.4 L129.27,633.40 Z" fill="#333"/>
<path d="M136.64,630.4 L139.34,627.40 L142.04,630.4 L139.34,633.40 Z" fill="#333"/>
<path d="M146.71,630.4 L149.41,627.40 L152.11,630.4 L149.41,633.40 Z" fill="#333"/>
<text x="107.40" y="638.60" font-size="4.5" fill="#999" font-family="Liberation Sans">5</text>
<text x="157.30" y="638.60" font-size="4.5" fill="#999" font-family="Liberation Sans">9</text>
<line x1="110.9" y1="640.6" x2="155.30" y2="640.6" stroke="#555" stroke-width="1.1"/>
<path d="M111.20,640.6 L113.90,637.60 L116.60,640.6 L113.90,643.60 Z" fill="#333"/>
<path d="M121.30,640.6 L124.00,637.60 L126.70,640.6 L124.00,643.60 Z" fill="#333"/>
<path d="M131.40,640.6 L134.10,637.60 L136.80,640.6 L134.10,643.60 Z" fill="#333"/>
<path d="M141.50,640.6 L144.20,637.60 L146.90,640.6 L144.20,643.60 Z" fill="#333"/>
<path d="M151.60,640.6 L154.30,637.60 L157.00,640.6 L154.30,643.60 Z" fill="#333"/>
<rect x="219.4" y="617.5" width="65.60" height="35.60" rx="3" fill="none" stroke="#555" stroke-width="1.1"/>
<line x1="252.25" y1="613.75" x2="252.25" y2="656.25" stroke="#555" stroke-width="1"/>
<line x1="214.4" y1="635.25" x2="290" y2="635.25" stroke="#555" stroke-width="1"/>
<text x="220.10" y="623.00" font-size="4.5" fill="#999" font-family="Liberation Sans">1</text>
<text x="280.25" y="623.00" font-size="4.5" fill="#999" font-family="Liberation Sans">6</text>
<line x1="223.6" y1="625" x2="278.25" y2="625" stroke="#555" stroke-width="1.1"/>
<path d="M223.90,625 L226.60,622.00 L229.30,625 L226.60,628.00 Z" fill="#333"/>
<path d="M234.03,625 L236.73,622.00 L239.43,625 L236.73,628.00 Z" fill="#333"/>
<path d="M244.16,625 L246.86,622.00 L249.56,625 L246.86,628.00 Z" fill="#333"/>
<path d="M254.29,625 L256.99,622.00 L259.69,625 L256.99,628.00 Z" fill="#333"/>
<path d="M264.42,625 L267.12,622.00 L269.82,625 L267.12,628.00 Z" fill="#333"/>
<path d="M274.55,625 L277.25,622.00 L279.95,625 L277.25,628.00 Z" fill="#333"/>
<text x="225.40" y="633.25" font-size="4.5" fill="#999" font-family="Liberation Sans">7</text>
<text x="274.90" y="633.25" font-size="4.5" fill="#999" font-family="Liberation Sans">11</text>
<line x1="228.9" y1="635.25" x2="272.90" y2="635.25" stroke="#555" stroke-width="1.1"/>
<path d="M229.20,635.25 L231.90,632.25 L234.60,635.25 L231.90,638.25 Z" fill="#333"/>
<path d="M239.20,635.25 L241.90,632.25 L244.60,635.25 L241.90,638.25 Z" fill="#333"/>
<path d="M249.20,635.25 L251.90,632.25 L254.60,635.25 L251.90,638.25 Z" fill="#333"/>
<path d="M259.20,635.25 L261.90,632.25 L264.60,635.25 L261.90,638.25 Z" fill="#333"/>
<path d="M269.20,635.25 L271.90,632.25 L274.60,635.25 L271.90,638.25 Z" fill="#333"/>
<text x="220.10" y="643.25" font-size="4.5" fill="#999" font-family="Liberation Sans">12</text>
<text x="280.25" y="643.25" font-size="4.5" fill="#999" font-family="Liberation Sans">17</text>
<line x1="223.6" y1="645.25" x2="278.25" y2="645.25" stroke="#555" stroke-width="1.1"/>
<path d="M223.90,645.25 L226.60,642.25 L229.30,645.25 L226.60,648.25 Z" fill="#333"/>
<path d="M234.03,645.25 L236.73,642.25 L239.43,645.25 L236.73,648.25 Z" fill="#333"/>
<path d="M244.16,645.25 L246.86,642.25 L249.56,645.25 L246.86,648.25 Z" fill="#333"/>
<path d="M254.29,645.25 L256.99,642.25 L259.69,645.25 L256.99,648.25 Z" fill="#333"/>
<path d="M264.42,645.25 L267.12,642.25 L269.82,645.25 L267.12,648.25 Z" fill="#333"/>
<path d="M274.55,645.25 L277.25,642.25 L279.95,645.25 L277.25,648.25 Z" fill="#333"/>
<rect x="347" y="618.1" width="95.00" height="34.50" rx="3" fill="none" stroke="#555" stroke-width="1.1"/>
<line x1="394.4" y1="608.5" x2="394.4" y2="656.6" stroke="#555" stroke-width="1"/>
<line x1="340.5" y1="635.1" x2="449" y2="635.1" stroke="#555" stroke-width="1"/>
<text x="347.50" y="623.10" font-size="4.5" fill="#999" font-family="Liberation Sans">1</text>
<text x="437.72" y="623.10" font-size="4.5" fill="#999" font-family="Liberation Sans">9</text>
<line x1="351" y1="625.1" x2="435.72" y2="625.1" stroke="#555" stroke-width="1.1"/>
<path d="M351.30,625.1 L354.00,622.10 L356.70,625.1 L354.00,628.10 Z" fill="#333"/>
<path d="M361.39,625.1 L364.09,622.10 L366.79,625.1 L364.09,628.10 Z" fill="#333"/>
<path d="M371.48,625.1 L374.18,622.10 L376.88,625.1 L374.18,628.10 Z" fill="#333"/>
<path d="M381.57,625.1 L384.27,622.10 L386.97,625.1 L384.27,628.10 Z" fill="#333"/>
<path d="M391.66,625.1 L394.36,622.10 L397.06,625.1 L394.36,628.10 Z" fill="#333"/>
<path d="M401.75,625.1 L404.45,622.10 L407.15,625.1 L404.45,628.10 Z" fill="#333"/>
<path d="M411.84,625.1 L414.54,622.10 L417.24,625.1 L414.54,628.10 Z" fill="#333"/>
<path d="M421.93,625.1 L424.63,622.10 L427.33,625.1 L424.63,628.10 Z" fill="#333"/>
<path d="M432.02,625.1 L434.72,622.10 L437.42,625.1 L434.72,628.10 Z" fill="#333"/>
<text x="352.70" y="633.10" font-size="4.5" fill="#999" font-family="Liberation Sans">10</text>
<text x="432.76" y="633.10" font-size="4.5" fill="#999" font-family="Liberation Sans">17</text>
<line x1="356.2" y1="635.1" x2="430.76" y2="635.1" stroke="#555" stroke-width="1.1"/>
<path d="M356.50,635.1 L359.20,632.10 L361.90,635.1 L359.20,638.10 Z" fill="#333"/>
<path d="M366.58,635.1 L369.28,632.10 L371.98,635.1 L369.28,638.10 Z" fill="#333"/>
<path d="M376.66,635.1 L379.36,632.10 L382.06,635.1 L379.36,638.10 Z" fill="#333"/>
<path d="M386.74,635.1 L389.44,632.10 L392.14,635.1 L389.44,638.10 Z" fill="#333"/>
<path d="M396.82,635.1 L399.52,632.10 L402.22,635.1 L399.52,638.10 Z" fill="#333"/>
<path d="M406.90,635.1 L409.60,632.10 L412.30,635.1 L409.60,638.10 Z" fill="#333"/>
<path d="M416.98,635.1 L419.68,632.10 L422.38,635.1 L419.68,638.10 Z" fill="#333"/>
<path d="M427.06,635.1 L429.76,632.10 L432.46,635.1 L429.76,638.10 Z" fill="#333"/>
<text x="347.50" y="643.60" font-size="4.5" fill="#999" font-family="Liberation Sans">18</text>
<text x="437.72" y="643.60" font-size="4.5" fill="#999" font-family="Liberation Sans">26</text>
<line x1="351" y1="645.6" x2="435.72" y2="645.6" stroke="#555" stroke-width="1.1"/>
<path d="M351.30,645.6 L354.00,642.60 L356.70,645.6 L354.00,648.60 Z" fill="#333"/>
<path d="M361.39,645.6 L364.09,642.60 L366.79,645.6 L364.09,648.60 Z" fill="#333"/>
<path d="M371.48,645.6 L374.18,642.60 L376.88,645.6 L374.18,648.60 Z" fill="#333"/>
<path d="M381.57,645.6 L384.27,642.60 L386.97,645.6 L384.27,648.60 Z" fill="#333"/>
<path d="M391.66,645.6 L394.36,642.60 L397.06,645.6 L394.36,648.60 Z" fill="#333"/>
<path d="M401.75,645.6 L404.45,642.60 L407.15,645.6 L404.45,648.60 Z" fill="#333"/>
<path d="M411.84,645.6 L414.54,642.60 L417.24,645.6 L414.54,648.60 Z" fill="#333"/>
<path d="M421.93,645.6 L424.63,642.60 L427.33,645.6 L424.63,648.60 Z" fill="#333"/>
<path d="M432.02,645.6 L434.72,642.60 L437.42,645.6 L434.72,648.60 Z" fill="#333"/>
<rect x="511.4" y="617.5" width="133.85" height="35.40" rx="3" fill="none" stroke="#555" stroke-width="1.1"/>
<line x1="578.4" y1="612.4" x2="578.4" y2="656.25" stroke="#555" stroke-width="1"/>
<line x1="506.2" y1="635.3" x2="650.2" y2="635.3" stroke="#555" stroke-width="1"/>
<text x="510.95" y="622.75" font-size="4.5" fill="#999" font-family="Liberation Sans">1</text>
<text x="642.01" y="622.75" font-size="4.5" fill="#999" font-family="Liberation Sans">13</text>
<line x1="514.45" y1="624.75" x2="640.01" y2="624.75" stroke="#555" stroke-width="1.1"/>
<path d="M514.75,624.75 L517.45,621.75 L520.15,624.75 L517.45,627.75 Z" fill="#333"/>
<path d="M524.88,624.75 L527.58,621.75 L530.28,624.75 L527.58,627.75 Z" fill="#333"/>
<path d="M535.01,624.75 L537.71,621.75 L540.41,624.75 L537.71,627.75 Z" fill="#333"/>
<path d="M545.14,624.75 L547.84,621.75 L550.54,624.75 L547.84,627.75 Z" fill="#333"/>
<path d="M555.27,624.75 L557.97,621.75 L560.67,624.75 L557.97,627.75 Z" fill="#333"/>
<path d="M565.40,624.75 L568.10,621.75 L570.80,624.75 L568.10,627.75 Z" fill="#333"/>
<path d="M575.53,624.75 L578.23,621.75 L580.93,624.75 L578.23,627.75 Z" fill="#333"/>
<path d="M585.66,624.75 L588.36,621.75 L591.06,624.75 L588.36,627.75 Z" fill="#333"/>
<path d="M595.79,624.75 L598.49,621.75 L601.19,624.75 L598.49,627.75 Z" fill="#333"/>
<path d="M605.92,624.75 L608.62,621.75 L611.32,624.75 L608.62,627.75 Z" fill="#333"/>
<path d="M616.05,624.75 L618.75,621.75 L621.45,624.75 L618.75,627.75 Z" fill="#333"/>
<path d="M626.18,624.75 L628.88,621.75 L631.58,624.75 L628.88,627.75 Z" fill="#333"/>
<path d="M636.31,624.75 L639.01,621.75 L641.71,624.75 L639.01,627.75 Z" fill="#333"/>
<text x="516.10" y="633.30" font-size="4.5" fill="#999" font-family="Liberation Sans">14</text>
<text x="637.03" y="633.30" font-size="4.5" fill="#999" font-family="Liberation Sans">25</text>
<line x1="519.6" y1="635.3" x2="635.03" y2="635.3" stroke="#555" stroke-width="1.1"/>
<path d="M519.90,635.3 L522.60,632.30 L525.30,635.3 L522.60,638.30 Z" fill="#333"/>
<path d="M530.03,635.3 L532.73,632.30 L535.43,635.3 L532.73,638.30 Z" fill="#333"/>
<path d="M540.16,635.3 L542.86,632.30 L545.56,635.3 L542.86,638.30 Z" fill="#333"/>
<path d="M550.29,635.3 L552.99,632.30 L555.69,635.3 L552.99,638.30 Z" fill="#333"/>
<path d="M560.42,635.3 L563.12,632.30 L565.82,635.3 L563.12,638.30 Z" fill="#333"/>
<path d="M570.55,635.3 L573.25,632.30 L575.95,635.3 L573.25,638.30 Z" fill="#333"/>
<path d="M580.68,635.3 L583.38,632.30 L586.08,635.3 L583.38,638.30 Z" fill="#333"/>
<path d="M590.81,635.3 L593.51,632.30 L596.21,635.3 L593.51,638.30 Z" fill="#333"/>
<path d="M600.94,635.3 L603.64,632.30 L606.34,635.3 L603.64,638.30 Z" fill="#333"/>
<path d="M611.07,635.3 L613.77,632.30 L616.47,635.3 L613.77,638.30 Z" fill="#333"/>
<path d="M621.20,635.3 L623.90,632.30 L626.60,635.3 L623.90,638.30 Z" fill="#333"/>
<path d="M631.33,635.3 L634.03,632.30 L636.73,635.3 L634.03,638.30 Z" fill="#333"/>
<text x="510.95" y="643.00" font-size="4.5" fill="#999" font-family="Liberation Sans">26</text>
<text x="642.01" y="643.00" font-size="4.5" fill="#999" font-family="Liberation Sans">38</text>
<line x1="514.45" y1="645" x2="640.01" y2="645" stroke="#555" stroke-width="1.1"/>
<path d="M514.75,645 L517.45,642.00 L520.15,645 L517.45,648.00 Z" fill="#333"/>
<path d="M524.88,645 L527.58,642.00 L530.28,645 L527.58,648.00 Z" fill="#333"/>
<path d="M535.01,645 L537.71,642.00 L540.41,645 L537.71,648.00 Z" fill="#333"/>
<path d="M545.14,645 L547.84,642.00 L550.54,645 L547.84,648.00 Z" fill="#333"/>
<path d="M555.27,645 L557.97,642.00 L560.67,645 L557.97,648.00 Z" fill="#333"/>
<path d="M565.40,645 L568.10,642.00 L570.80,645 L568.10,648.00 Z" fill="#333"/>
<path d="M575.53,645 L578.23,642.00 L580.93,645 L578.23,648.00 Z" fill="#333"/>
<path d="M585.66,645 L588.36,642.00 L591.06,645 L588.36,648.00 Z" fill="#333"/>
<path d="M595.79,645 L598.49,642.00 L601.19,645 L598.49,648.00 Z" fill="#333"/>
<path d="M605.92,645 L608.62,642.00 L611.32,645 L608.62,648.00 Z" fill="#333"/>
<path d="M616.05,645 L618.75,642.00 L621.45,645 L618.75,648.00 Z" fill="#333"/>
<path d="M626.18,645 L628.88,642.00 L631.58,645 L628.88,648.00 Z" fill="#333"/>
<path d="M636.31,645 L639.01,642.00 L641.71,645 L639.01,648.00 Z" fill="#333"/>
<rect x="103.4" y="687.2" width="136.00" height="44.05" rx="4" fill="none" stroke="#555" stroke-width="1.1"/>
<line x1="171" y1="683.4" x2="171" y2="736" stroke="#555" stroke-width="1"/>
<line x1="98.75" y1="709.1" x2="242.8" y2="709.1" stroke="#555" stroke-width="1"/>
<text x="109.10" y="691.90" font-size="4.5" fill="#999" font-family="Liberation Sans">1</text>
<text x="229.37" y="691.90" font-size="4.5" fill="#999" font-family="Liberation Sans">12</text>
<line x1="112.6" y1="693.9" x2="227.37" y2="693.9" stroke="#555" stroke-width="1.1"/>
<path d="M112.90,693.9 L115.60,690.90 L118.30,693.9 L115.60,696.90 Z" fill="#333"/>
<path d="M122.97,693.9 L125.67,690.90 L128.37,693.9 L125.67,696.90 Z" fill="#333"/>
<path d="M133.04,693.9 L135.74,690.90 L138.44,693.9 L135.74,696.90 Z" fill="#333"/>
<path d="M143.11,693.9 L145.81,690.90 L148.51,693.9 L145.81,696.90 Z" fill="#333"/>
<path d="M153.18,693.9 L155.88,690.90 L158.58,693.9 L155.88,696.90 Z" fill="#333"/>
<path d="M163.25,693.9 L165.95,690.90 L168.65,693.9 L165.95,696.90 Z" fill="#333"/>
<path d="M173.32,693.9 L176.02,690.90 L178.72,693.9 L176.02,696.90 Z" fill="#333"/>
<path d="M183.39,693.9 L186.09,690.90 L188.79,693.9 L186.09,696.90 Z" fill="#333"/>
<path d="M193.46,693.9 L196.16,690.90 L198.86,693.9 L196.16,696.90 Z" fill="#333"/>
<path d="M203.53,693.9 L206.23,690.90 L208.93,693.9 L206.23,696.90 Z" fill="#333"/>
<path d="M213.60,693.9 L216.30,690.90 L219.00,693.9 L216.30,696.90 Z" fill="#333"/>
<path d="M223.67,693.9 L226.37,690.90 L229.07,693.9 L226.37,696.90 Z" fill="#333"/>
<text x="104.10" y="702.10" font-size="4.5" fill="#999" font-family="Liberation Sans">13</text>
<text x="234.44" y="702.10" font-size="4.5" fill="#999" font-family="Liberation Sans">25</text>
<line x1="107.6" y1="704.1" x2="232.44" y2="704.1" stroke="#555" stroke-width="1.1"/>
<path d="M107.90,704.1 L110.60,701.10 L113.30,704.1 L110.60,707.10 Z" fill="#333"/>
<path d="M117.97,704.1 L120.67,701.10 L123.37,704.1 L120.67,707.10 Z" fill="#333"/>
<path d="M128.04,704.1 L130.74,701.10 L133.44,704.1 L130.74,707.10 Z" fill="#333"/>
<path d="M138.11,704.1 L140.81,701.10 L143.51,704.1 L140.81,707.10 Z" fill="#333"/>
<path d="M148.18,704.1 L150.88,701.10 L153.58,704.1 L150.88,707.10 Z" fill="#333"/>
<path d="M158.25,704.1 L160.95,701.10 L163.65,704.1 L160.95,707.10 Z" fill="#333"/>
<path d="M168.32,704.1 L171.02,701.10 L173.72,704.1 L171.02,707.10 Z" fill="#333"/>
<path d="M178.39,704.1 L181.09,701.10 L183.79,704.1 L181.09,707.10 Z" fill="#333"/>
<path d="M188.46,704.1 L191.16,701.10 L193.86,704.1 L191.16,707.10 Z" fill="#333"/>
<path d="M198.53,704.1 L201.23,701.10 L203.93,704.1 L201.23,707.10 Z" fill="#333"/>
<path d="M208.60,704.1 L211.30,701.10 L214.00,704.1 L211.30,707.10 Z" fill="#333"/>
<path d="M218.67,704.1 L221.37,701.10 L224.07,704.1 L221.37,707.10 Z" fill="#333"/>
<path d="M228.74,704.1 L231.44,701.10 L234.14,704.1 L231.44,707.10 Z" fill="#333"/>
<text x="109.10" y="712.10" font-size="4.5" fill="#999" font-family="Liberation Sans">26</text>
<text x="229.37" y="712.10" font-size="4.5" fill="#999" font-family="Liberation Sans">37</text>
<line x1="112.6" y1="714.1" x2="227.37" y2="714.1" stroke="#555" stroke-width="1.1"/>
<path d="M112.90,714.1 L115.60,711.10 L118.30,714.1 L115.60,717.10 Z" fill="#333"/>
<path d="M122.97,714.1 L125.67,711.10 L128.37,714.1 L125.67,717.10 Z" fill="#333"/>
<path d="M133.04,714.1 L135.74,711.10 L138.44,714.1 L135.74,717.10 Z" fill="#333"/>
<path d="M143.11,714.1 L145.81,711.10 L148.51,714.1 L145.81,717.10 Z" fill="#333"/>
<path d="M153.18,714.1 L155.88,711.10 L158.58,714.1 L155.88,717.10 Z" fill="#333"/>
<path d="M163.25,714.1 L165.95,711.10 L168.65,714.1 L165.95,717.10 Z" fill="#333"/>
<path d="M173.32,714.1 L176.02,711.10 L178.72,714.1 L176.02,717.10 Z" fill="#333"/>
<path d="M183.39,714.1 L186.09,711.10 L188.79,714.1 L186.09,717.10 Z" fill="#333"/>
<path d="M193.46,714.1 L196.16,711.10 L198.86,714.1 L196.16,717.10 Z" fill="#333"/>
<path d="M203.53,714.1 L206.23,711.10 L208.93,714.1 L206.23,717.10 Z" fill="#333"/>
<path d="M213.60,714.1 L216.30,711.10 L219.00,714.1 L216.30,717.10 Z" fill="#333"/>
<path d="M223.67,714.1 L226.37,711.10 L229.07,714.1 L226.37,717.10 Z" fill="#333"/>
<text x="104.10" y="722.40" font-size="4.5" fill="#999" font-family="Liberation Sans">38</text>
<text x="234.44" y="722.40" font-size="4.5" fill="#999" font-family="Liberation Sans">50</text>
<line x1="107.6" y1="724.4" x2="232.44" y2="724.4" stroke="#555" stroke-width="1.1"/>
<path d="M107.90,724.4 L110.60,721.40 L113.30,724.4 L110.60,727.40 Z" fill="#333"/>
<path d="M117.97,724.4 L120.67,721.40 L123.37,724.4 L120.67,727.40 Z" fill="#333"/>
<path d="M128.04,724.4 L130.74,721.40 L133.44,724.4 L130.74,727.40 Z" fill="#333"/>
<path d="M138.11,724.4 L140.81,721.40 L143.51,724.4 L140.81,727.40 Z" fill="#333"/>
<path d="M148.18,724.4 L150.88,721.40 L153.58,724.4 L150.88,727.40 Z" fill="#333"/>
<path d="M158.25,724.4 L160.95,721.40 L163.65,724.4 L160.95,727.40 Z" fill="#333"/>
<path d="M168.32,724.4 L171.02,721.40 L173.72,724.4 L171.02,727.40 Z" fill="#333"/>
<path d="M178.39,724.4 L181.09,721.40 L183.79,724.4 L181.09,727.40 Z" fill="#333"/>
<path d="M188.46,724.4 L191.16,721.40 L193.86,724.4 L191.16,727.40 Z" fill="#333"/>
<path d="M198.53,724.4 L201.23,721.40 L203.93,724.4 L201.23,727.40 Z" fill="#333"/>
<path d="M208.60,724.4 L211.30,721.40 L214.00,724.4 L211.30,727.40 Z" fill="#333"/>
<path d="M218.67,724.4 L221.37,721.40 L224.07,724.4 L221.37,727.40 Z" fill="#333"/>
<path d="M228.74,724.4 L231.44,721.40 L234.14,724.4 L231.44,727.40 Z" fill="#333"/>
<rect x="289.2" y="686.8" width="155.50" height="55.00" rx="4" fill="none" stroke="#555" stroke-width="1.1"/>
<line x1="366.7" y1="680.3" x2="366.7" y2="748.3" stroke="#555" stroke-width="1"/>
<line x1="283" y1="714.2" x2="449.9" y2="714.2" stroke="#555" stroke-width="1"/>
<text x="295.90" y="692.10" font-size="4.5" fill="#999" font-family="Liberation Sans">1</text>
<text x="434.43" y="692.10" font-size="4.5" fill="#999" font-family="Liberation Sans">12</text>
<line x1="299.4" y1="694.1" x2="432.43" y2="694.1" stroke="#555" stroke-width="1.1"/>
<path d="M299.70,694.1 L302.40,691.10 L305.10,694.1 L302.40,697.10 Z" fill="#333"/>
<path d="M311.43,694.1 L314.13,691.10 L316.83,694.1 L314.13,697.10 Z" fill="#333"/>
<path d="M323.16,694.1 L325.86,691.10 L328.56,694.1 L325.86,697.10 Z" fill="#333"/>
<path d="M334.89,694.1 L337.59,691.10 L340.29,694.1 L337.59,697.10 Z" fill="#333"/>
<path d="M346.62,694.1 L349.32,691.10 L352.02,694.1 L349.32,697.10 Z" fill="#333"/>
<path d="M358.35,694.1 L361.05,691.10 L363.75,694.1 L361.05,697.10 Z" fill="#333"/>
<path d="M370.08,694.1 L372.78,691.10 L375.48,694.1 L372.78,697.10 Z" fill="#333"/>
<path d="M381.81,694.1 L384.51,691.10 L387.21,694.1 L384.51,697.10 Z" fill="#333"/>
<path d="M393.54,694.1 L396.24,691.10 L398.94,694.1 L396.24,697.10 Z" fill="#333"/>
<path d="M405.27,694.1 L407.97,691.10 L410.67,694.1 L407.97,697.10 Z" fill="#333"/>
<path d="M417.00,694.1 L419.70,691.10 L422.40,694.1 L419.70,697.10 Z" fill="#333"/>
<path d="M428.73,694.1 L431.43,691.10 L434.13,694.1 L431.43,697.10 Z" fill="#333"/>
<text x="290.10" y="702.10" font-size="4.5" fill="#999" font-family="Liberation Sans">13</text>
<text x="440.00" y="702.10" font-size="4.5" fill="#999" font-family="Liberation Sans">25</text>
<line x1="293.6" y1="704.1" x2="438.00" y2="704.1" stroke="#555" stroke-width="1.1"/>
<path d="M293.90,704.1 L296.60,701.10 L299.30,704.1 L296.60,707.10 Z" fill="#333"/>
<path d="M305.60,704.1 L308.30,701.10 L311.00,704.1 L308.30,707.10 Z" fill="#333"/>
<path d="M317.30,704.1 L320.00,701.10 L322.70,704.1 L320.00,707.10 Z" fill="#333"/>
<path d="M329.00,704.1 L331.70,701.10 L334.40,704.1 L331.70,707.10 Z" fill="#333"/>
<path d="M340.70,704.1 L343.40,701.10 L346.10,704.1 L343.40,707.10 Z" fill="#333"/>
<path d="M352.40,704.1 L355.10,701.10 L357.80,704.1 L355.10,707.10 Z" fill="#333"/>
<path d="M364.10,704.1 L366.80,701.10 L369.50,704.1 L366.80,707.10 Z" fill="#333"/>
<path d="M375.80,704.1 L378.50,701.10 L381.20,704.1 L378.50,707.10 Z" fill="#333"/>
<path d="M387.50,704.1 L390.20,701.10 L392.90,704.1 L390.20,707.10 Z" fill="#333"/>
<path d="M399.20,704.1 L401.90,701.10 L404.60,704.1 L401.90,707.10 Z" fill="#333"/>
<path d="M410.90,704.1 L413.60,701.10 L416.30,704.1 L413.60,707.10 Z" fill="#333"/>
<path d="M422.60,704.1 L425.30,701.10 L428.00,704.1 L425.30,707.10 Z" fill="#333"/>
<path d="M434.30,704.1 L437.00,701.10 L439.70,704.1 L437.00,707.10 Z" fill="#333"/>
<text x="295.90" y="712.20" font-size="4.5" fill="#999" font-family="Liberation Sans">26</text>
<text x="434.43" y="712.20" font-size="4.5" fill="#999" font-family="Liberation Sans">37</text>
<line x1="299.4" y1="714.2" x2="432.43" y2="714.2" stroke="#555" stroke-width="1.1"/>
<path d="M299.70,714.2 L302.40,711.20 L305.10,714.2 L302.40,717.20 Z" fill="#333"/>
<path d="M311.43,714.2 L314.13,711.20 L316.83,714.2 L314.13,717.20 Z" fill="#333"/>
<path d="M323.16,714.2 L325.86,711.20 L328.56,714.2 L325.86,717.20 Z" fill="#333"/>
<path d="M334.89,714.2 L337.59,711.20 L340.29,714.2 L337.59,717.20 Z" fill="#333"/>
<path d="M346.62,714.2 L349.32,711.20 L352.02,714.2 L349.32,717.20 Z" fill="#333"/>
<path d="M358.35,714.2 L361.05,711.20 L363.75,714.2 L361.05,717.20 Z" fill="#333"/>
<path d="M370.08,714.2 L372.78,711.20 L375.48,714.2 L372.78,717.20 Z" fill="#333"/>
<path d="M381.81,714.2 L384.51,711.20 L387.21,714.2 L384.51,717.20 Z" fill="#333"/>
<path d="M393.54,714.2 L396.24,711.20 L398.94,714.2 L396.24,717.20 Z" fill="#333"/>
<path d="M405.27,714.2 L407.97,711.20 L410.67,714.2 L407.97,717.20 Z" fill="#333"/>
<path d="M417.00,714.2 L419.70,711.20 L422.40,714.2 L419.70,717.20 Z" fill="#333"/>
<path d="M428.73,714.2 L431.43,711.20 L434.13,714.2 L431.43,717.20 Z" fill="#333"/>
<text x="290.10" y="722.20" font-size="4.5" fill="#999" font-family="Liberation Sans">38</text>
<text x="440.00" y="722.20" font-size="4.5" fill="#999" font-family="Liberation Sans">50</text>
<line x1="293.6" y1="724.2" x2="438.00" y2="724.2" stroke="#555" stroke-width="1.1"/>
<path d="M293.90,724.2 L296.60,721.20 L299.30,724.2 L296.60,727.20 Z" fill="#333"/>
<path d="M305.60,724.2 L308.30,721.20 L311.00,724.2 L308.30,727.20 Z" fill="#333"/>
<path d="M317.30,724.2 L320.00,721.20 L322.70,724.2 L320.00,727.20 Z" fill="#333"/>
<path d="M329.00,724.2 L331.70,721.20 L334.40,724.2 L331.70,727.20 Z" fill="#333"/>
<path d="M340.70,724.2 L343.40,721.20 L346.10,724.2 L343.40,727.20 Z" fill="#333"/>
<path d="M352.40,724.2 L355.10,721.20 L357.80,724.2 L355.10,727.20 Z" fill="#333"/>
<path d="M364.10,724.2 L366.80,721.20 L369.50,724.2 L366.80,727.20 Z" fill="#333"/>
<path d="M375.80,724.2 L378.50,721.20 L381.20,724.2 L378.50,727.20 Z" fill="#333"/>
<path d="M387.50,724.2 L390.20,721.20 L392.90,724.2 L390.20,727.20 Z" fill="#333"/>
<path d="M399.20,724.2 L401.90,721.20 L404.60,724.2 L401.90,727.20 Z" fill="#333"/>
<path d="M410.90,724.2 L413.60,721.20 L416.30,724.2 L413.60,727.20 Z" fill="#333"/>
<path d="M422.60,724.2 L425.30,721.20 L428.00,724.2 L425.30,727.20 Z" fill="#333"/>
<path d="M434.30,724.2 L437.00,721.20 L439.70,724.2 L437.00,727.20 Z" fill="#333"/>
<text x="295.90" y="732.30" font-size="4.5" fill="#999" font-family="Liberation Sans">51</text>
<text x="434.43" y="732.30" font-size="4.5" fill="#999" font-family="Liberation Sans">62</text>
<line x1="299.4" y1="734.3" x2="432.43" y2="734.3" stroke="#555" stroke-width="1.1"/>
<path d="M299.70,734.3 L302.40,731.30 L305.10,734.3 L302.40,737.30 Z" fill="#333"/>
<path d="M311.43,734.3 L314.13,731.30 L316.83,734.3 L314.13,737.30 Z" fill="#333"/>
<path d="M323.16,734.3 L325.86,731.30 L328.56,734.3 L325.86,737.30 Z" fill="#333"/>
<path d="M334.89,734.3 L337.59,731.30 L340.29,734.3 L337.59,737.30 Z" fill="#333"/>
<path d="M346.62,734.3 L349.32,731.30 L352.02,734.3 L349.32,737.30 Z" fill="#333"/>
<path d="M358.35,734.3 L361.05,731.30 L363.75,734.3 L361.05,737.30 Z" fill="#333"/>
<path d="M370.08,734.3 L372.78,731.30 L375.48,734.3 L372.78,737.30 Z" fill="#333"/>
<path d="M381.81,734.3 L384.51,731.30 L387.21,734.3 L384.51,737.30 Z" fill="#333"/>
<path d="M393.54,734.3 L396.24,731.30 L398.94,734.3 L396.24,737.30 Z" fill="#333"/>
<path d="M405.27,734.3 L407.97,731.30 L410.67,734.3 L407.97,737.30 Z" fill="#333"/>
<path d="M417.00,734.3 L419.70,731.30 L422.40,734.3 L419.70,737.30 Z" fill="#333"/>
<path d="M428.73,734.3 L431.43,731.30 L434.13,734.3 L431.43,737.30 Z" fill="#333"/>
<rect x="500.3" y="687.2" width="155.30" height="54.10" rx="4" fill="none" stroke="#555" stroke-width="1.1"/>
<line x1="577.5" y1="679" x2="577.5" y2="748.3" stroke="#555" stroke-width="1"/>
<line x1="494" y1="714.2" x2="662.6" y2="714.2" stroke="#555" stroke-width="1"/>
<text x="505.80" y="692.00" font-size="4.5" fill="#999" font-family="Liberation Sans">1</text>
<text x="645.95" y="692.00" font-size="4.5" fill="#999" font-family="Liberation Sans">14</text>
<line x1="509.29999999999995" y1="694" x2="643.95" y2="694" stroke="#555" stroke-width="1.1"/>
<path d="M509.60,694 L512.30,691.00 L515.00,694 L512.30,697.00 Z" fill="#333"/>
<path d="M519.65,694 L522.35,691.00 L525.05,694 L522.35,697.00 Z" fill="#333"/>
<path d="M529.70,694 L532.40,691.00 L535.10,694 L532.40,697.00 Z" fill="#333"/>
<path d="M539.75,694 L542.45,691.00 L545.15,694 L542.45,697.00 Z" fill="#333"/>
<path d="M549.80,694 L552.50,691.00 L555.20,694 L552.50,697.00 Z" fill="#333"/>
<path d="M559.85,694 L562.55,691.00 L565.25,694 L562.55,697.00 Z" fill="#333"/>
<path d="M569.90,694 L572.60,691.00 L575.30,694 L572.60,697.00 Z" fill="#333"/>
<path d="M579.95,694 L582.65,691.00 L585.35,694 L582.65,697.00 Z" fill="#333"/>
<path d="M590.00,694 L592.70,691.00 L595.40,694 L592.70,697.00 Z" fill="#333"/>
<path d="M600.05,694 L602.75,691.00 L605.45,694 L602.75,697.00 Z" fill="#333"/>
<path d="M610.10,694 L612.80,691.00 L615.50,694 L612.80,697.00 Z" fill="#333"/>
<path d="M620.15,694 L622.85,691.00 L625.55,694 L622.85,697.00 Z" fill="#333"/>
<path d="M630.20,694 L632.90,691.00 L635.60,694 L632.90,697.00 Z" fill="#333"/>
<path d="M640.25,694 L642.95,691.00 L645.65,694 L642.95,697.00 Z" fill="#333"/>
<text x="500.50" y="702.30" font-size="4.5" fill="#999" font-family="Liberation Sans">15</text>
<text x="650.98" y="702.30" font-size="4.5" fill="#999" font-family="Liberation Sans">29</text>
<line x1="504" y1="704.3" x2="648.98" y2="704.3" stroke="#555" stroke-width="1.1"/>
<path d="M504.30,704.3 L507.00,701.30 L509.70,704.3 L507.00,707.30 Z" fill="#333"/>
<path d="M514.37,704.3 L517.07,701.30 L519.77,704.3 L517.07,707.30 Z" fill="#333"/>
<path d="M524.44,704.3 L527.14,701.30 L529.84,704.3 L527.14,707.30 Z" fill="#333"/>
<path d="M534.51,704.3 L537.21,701.30 L539.91,704.3 L537.21,707.30 Z" fill="#333"/>
<path d="M544.58,704.3 L547.28,701.30 L549.98,704.3 L547.28,707.30 Z" fill="#333"/>
<path d="M554.65,704.3 L557.35,701.30 L560.05,704.3 L557.35,707.30 Z" fill="#333"/>
<path d="M564.72,704.3 L567.42,701.30 L570.12,704.3 L567.42,707.30 Z" fill="#333"/>
<path d="M574.79,704.3 L577.49,701.30 L580.19,704.3 L577.49,707.30 Z" fill="#333"/>
<path d="M584.86,704.3 L587.56,701.30 L590.26,704.3 L587.56,707.30 Z" fill="#333"/>
<path d="M594.93,704.3 L597.63,701.30 L600.33,704.3 L597.63,707.30 Z" fill="#333"/>
<path d="M605.00,704.3 L607.70,701.30 L610.40,704.3 L607.70,707.30 Z" fill="#333"/>
<path d="M615.07,704.3 L617.77,701.30 L620.47,704.3 L617.77,707.30 Z" fill="#333"/>
<path d="M625.14,704.3 L627.84,701.30 L630.54,704.3 L627.84,707.30 Z" fill="#333"/>
<path d="M635.21,704.3 L637.91,701.30 L640.61,704.3 L637.91,707.30 Z" fill="#333"/>
<path d="M645.28,704.3 L647.98,701.30 L650.68,704.3 L647.98,707.30 Z" fill="#333"/>
<text x="505.80" y="712.20" font-size="4.5" fill="#999" font-family="Liberation Sans">30</text>
<text x="645.95" y="712.20" font-size="4.5" fill="#999" font-family="Liberation Sans">43</text>
<line x1="509.29999999999995" y1="714.2" x2="643.95" y2="714.2" stroke="#555" stroke-width="1.1"/>
<path d="M509.60,714.2 L512.30,711.20 L515.00,714.2 L512.30,717.20 Z" fill="#333"/>
<path d="M519.65,714.2 L522.35,711.20 L525.05,714.2 L522.35,717.20 Z" fill="#333"/>
<path d="M529.70,714.2 L532.40,711.20 L535.10,714.2 L532.40,717.20 Z" fill="#333"/>
<path d="M539.75,714.2 L542.45,711.20 L545.15,714.2 L542.45,717.20 Z" fill="#333"/>
<path d="M549.80,714.2 L552.50,711.20 L555.20,714.2 L552.50,717.20 Z" fill="#333"/>
<path d="M559.85,714.2 L562.55,711.20 L565.25,714.2 L562.55,717.20 Z" fill="#333"/>
<path d="M569.90,714.2 L572.60,711.20 L575.30,714.2 L572.60,717.20 Z" fill="#333"/>
<path d="M579.95,714.2 L582.65,711.20 L585.35,714.2 L582.65,717.20 Z" fill="#333"/>
<path d="M590.00,714.2 L592.70,711.20 L595.40,714.2 L592.70,717.20 Z" fill="#333"/>
<path d="M600.05,714.2 L602.75,711.20 L605.45,714.2 L602.75,717.20 Z" fill="#333"/>
<path d="M610.10,714.2 L612.80,711.20 L615.50,714.2 L612.80,717.20 Z" fill="#333"/>
<path d="M620.15,714.2 L622.85,711.20 L625.55,714.2 L622.85,717.20 Z" fill="#333"/>
<path d="M630.20,714.2 L632.90,711.20 L635.60,714.2 L632.90,717.20 Z" fill="#333"/>
<path d="M640.25,714.2 L642.95,711.20 L645.65,714.2 L642.95,717.20 Z" fill="#333"/>
<text x="500.50" y="722.30" font-size="4.5" fill="#999" font-family="Liberation Sans">44</text>
<text x="650.98" y="722.30" font-size="4.5" fill="#999" font-family="Liberation Sans">58</text>
<line x1="504" y1="724.3" x2="648.98" y2="724.3" stroke="#555" stroke-width="1.1"/>
<path d="M504.30,724.3 L507.00,721.30 L509.70,724.3 L507.00,727.30 Z" fill="#333"/>
<path d="M514.37,724.3 L517.07,721.30 L519.77,724.3 L517.07,727.30 Z" fill="#333"/>
<path d="M524.44,724.3 L527.14,721.30 L529.84,724.3 L527.14,727.30 Z" fill="#333"/>
<path d="M534.51,724.3 L537.21,721.30 L539.91,724.3 L537.21,727.30 Z" fill="#333"/>
<path d="M544.58,724.3 L547.28,721.30 L549.98,724.3 L547.28,727.30 Z" fill="#333"/>
<path d="M554.65,724.3 L557.35,721.30 L560.05,724.3 L557.35,727.30 Z" fill="#333"/>
<path d="M564.72,724.3 L567.42,721.30 L570.12,724.3 L567.42,727.30 Z" fill="#333"/>
<path d="M574.79,724.3 L577.49,721.30 L580.19,724.3 L577.49,727.30 Z" fill="#333"/>
<path d="M584.86,724.3 L587.56,721.30 L590.26,724.3 L587.56,727.30 Z" fill="#333"/>
<path d="M594.93,724.3 L597.63,721.30 L600.33,724.3 L597.63,727.30 Z" fill="#333"/>
<path d="M605.00,724.3 L607.70,721.30 L610.40,724.3 L607.70,727.30 Z" fill="#333"/>
<path d="M615.07,724.3 L617.77,721.30 L620.47,724.3 L617.77,727.30 Z" fill="#333"/>
<path d="M625.14,724.3 L627.84,721.30 L630.54,724.3 L627.84,727.30 Z" fill="#333"/>
<path d="M635.21,724.3 L637.91,721.30 L640.61,724.3 L637.91,727.30 Z" fill="#333"/>
<path d="M645.28,724.3 L647.98,721.30 L650.68,724.3 L647.98,727.30 Z" fill="#333"/>
<text x="505.80" y="732.40" font-size="4.5" fill="#999" font-family="Liberation Sans">59</text>
<text x="645.95" y="732.40" font-size="4.5" fill="#999" font-family="Liberation Sans">72</text>
<line x1="509.29999999999995" y1="734.4" x2="643.95" y2="734.4" stroke="#555" stroke-width="1.1"/>
<path d="M509.60,734.4 L512.30,731.40 L515.00,734.4 L512.30,737.40 Z" fill="#333"/>
<path d="M519.65,734.4 L522.35,731.40 L525.05,734.4 L522.35,737.40 Z" fill="#333"/>
<path d="M529.70,734.4 L532.40,731.40 L535.10,734.4 L532.40,737.40 Z" fill="#333"/>
<path d="M539.75,734.4 L542.45,731.40 L545.15,734.4 L542.45,737.40 Z" fill="#333"/>
<path d="M549.80,734.4 L552.50,731.40 L555.20,734.4 L552.50,737.40 Z" fill="#333"/>
<path d="M559.85,734.4 L562.55,731.40 L565.25,734.4 L562.55,737.40 Z" fill="#333"/>
<path d="M569.90,734.4 L572.60,731.40 L575.30,734.4 L572.60,737.40 Z" fill="#333"/>
<path d="M579.95,734.4 L582.65,731.40 L585.35,734.4 L582.65,737.40 Z" fill="#333"/>
<path d="M590.00,734.4 L592.70,731.40 L595.40,734.4 L592.70,737.40 Z" fill="#333"/>
<path d="M600.05,734.4 L602.75,731.40 L605.45,734.4 L602.75,737.40 Z" fill="#333"/>
<path d="M610.10,734.4 L612.80,731.40 L615.50,734.4 L612.80,737.40 Z" fill="#333"/>
<path d="M620.15,734.4 L622.85,731.40 L625.55,734.4 L622.85,737.40 Z" fill="#333"/>
<path d="M630.20,734.4 L632.90,731.40 L635.60,734.4 L632.90,737.40 Z" fill="#333"/>
<path d="M640.25,734.4 L642.95,731.40 L645.65,734.4 L642.95,737.40 Z" fill="#333"/></svg><div class="d" style="left:193px;top:343.8px;font-size:9px">A</div><div class="d" style="left:506.8px;top:150.6px;font-size:9px">A向</div><div class="d" style="left:511.3px;top:171.6px;font-size:10px">L2</div><div class="d" style="left:511.3px;top:185.9px;font-size:10px">L3</div><div class="d" style="left:500.3px;top:285.6px;font-size:9px"><span style="letter-spacing:0.5px">A ± 0.23</span></div><div class="d" style="left:511.8px;top:300.6px;font-size:10px">L1</div><div class="d" style="left:378.5px;top:190.3px;font-size:8.5px"><span style="letter-spacing:1.7px">4-φ3.5</span></div><div class="d" style="left:369.5px;top:201.5px;font-size:8px"><span style="letter-spacing:1.3px">(9芯为2孔)</span></div><div class="d" style="left:261.5px;width:60px;text-align:center;top:221.75px;font-size:8.5px;color:#777;transform:rotate(-90deg)">h3</div><div class="d" style="left:282px;width:60px;text-align:center;top:224.25px;font-size:8.5px;color:#666;transform:rotate(-90deg)">h2</div><div class="d" style="left:302px;width:60px;text-align:center;top:233.25px;font-size:8.5px;color:#666;transform:rotate(-90deg)">h1</div><div class="d" style="left:608.5px;width:60px;text-align:center;top:235.5px;font-size:9px;color:#555;transform:rotate(-90deg)">b3</div><div class="d" style="left:622.5px;width:60px;text-align:center;top:235.5px;font-size:9px;color:#555;transform:rotate(-90deg)">b2</div><div class="d" style="left:636.5px;width:60px;text-align:center;top:235.5px;font-size:9px;color:#555;transform:rotate(-90deg)">b1</div><div class="d" style="left:367.5px;width:60px;text-align:center;top:236.05px;font-size:8.5px;color:#444;transform:rotate(-90deg)">B ± 0.13</div><div class="p" style="left:65.5px;top:801.30px">J7产品插头座采用直插式连接，连接时，先将插头两侧弹簧片垂直往外拉，使其二个小圆台脱离锁紧板的二孔，</div><div class="p" style="left:39.5px;top:822.30px">然后按锁紧板沿插合标志方向<span class="pa">(</span>即插头上的红色标记必须对准插座上的红色标记<span class="pa pr">)</span>垂直推入插座，当听到清脆的<span class="q1">“</span>啪<span class="q2">”</span></div><div class="p" style="left:39.5px;top:842.80px">声，即说明连接已到位，再将插头上的弹簧片用垂直力推入，使其二个小圆台进入锁紧板的二个孔内，其锁紧保险作</div><div class="p" style="left:39.5px;top:863.30px">用。分离时，先将插头两侧的弹簧片垂直往外拉出，使其二个小圆珠台脱离锁紧板的两孔，然后按锁紧板垂直将插头</div><div class="p" style="left:39.5px;top:884.30px">拔出即可分离。</div><div class="p" style="left:39.5px;top:952.30px">合同或订单中应注以下内容：</div><div class="p" style="left:39.5px;top:971.40px">1、产品详细规格的名称，标准号及发布日期</div><div class="p" style="left:39.5px;top:992.60px">2、完整的产品名称</div><div class="p" style="left:39.5px;top:1013.30px">3、数量</div></body></html>
